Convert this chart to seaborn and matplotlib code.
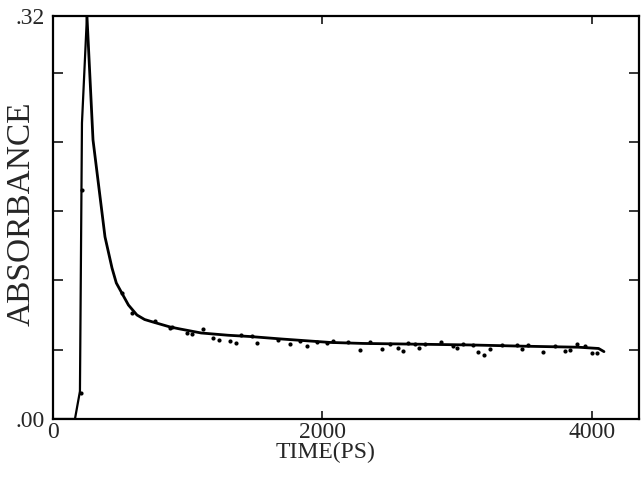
import numpy as np
import pandas as pd
import matplotlib
matplotlib.use('Agg')
import matplotlib.pyplot as plt
import seaborn as sns

# rising edge of the measured trace (ps, absorbance)
rise_t = [0, 163, 200, 215, 252]
rise_a = [0.0, 0.0, 0.022, 0.235, 0.320]

# fitted decay curve
fit_t = [252, 297, 341, 386, 438, 470, 512, 560, 623, 680, 742, 868, 942, 1100,
         1300, 1462, 1700, 2056, 2300, 2575, 3095, 3500, 3900, 4050, 4090]
fit_a = [0.320, 0.2216, 0.1835, 0.1446, 0.1199, 0.1080, 0.0998, 0.0905, 0.0826,
         0.0790, 0.0770, 0.0731, 0.0715, 0.0683, 0.0665, 0.0655, 0.0635, 0.0608,
         0.0600, 0.0596, 0.0588, 0.0578, 0.0570, 0.0560, 0.0535]

# measured points visible around the fit
pts_t = [208, 215, 512, 586, 757, 868, 883, 994, 1032, 1113, 1187, 1232, 1314, 1358,
         1395, 1477, 1514, 1670, 1759, 1833, 1885, 1959, 2033, 2078, 2189, 2278,
         2353, 2442, 2501, 2560, 2597, 2635, 2687, 2716, 2761, 2879, 2968, 2998,
         3043, 3117, 3154, 3199, 3243, 3332, 3443, 3481, 3525, 3636, 3725, 3800,
         3837, 3889, 3948, 4000, 4037]
pts_a = [0.0206, 0.182, 0.1001, 0.0842, 0.0778, 0.0723, 0.0731, 0.0683, 0.0675,
         0.0715, 0.0643, 0.0627, 0.0620, 0.0604, 0.0667, 0.0659, 0.0604, 0.0627,
         0.0596, 0.0620, 0.0580, 0.0612, 0.0604, 0.0620, 0.0612, 0.0548, 0.0612,
         0.0556, 0.0596, 0.0564, 0.0540, 0.0604, 0.0596, 0.0564, 0.0596, 0.0612,
         0.0580, 0.0564, 0.0596, 0.0588, 0.0532, 0.0508, 0.0556, 0.0588, 0.0588,
         0.0556, 0.0588, 0.0532, 0.0580, 0.0540, 0.0548, 0.0596, 0.0580, 0.0524,
         0.0524]

x_ticks = [0, 2000, 4000]
x_labels = ['0', '2000', '4000']
y_ticks = [0.0, 0.32]
y_labels = ['.00', '.32']
y_minor = [0.055, 0.110, 0.165, 0.220, 0.275]

rise = pd.DataFrame({'t': rise_t, 'a': rise_a})
fit = pd.DataFrame({'t': fit_t, 'a': fit_a})
pts = pd.DataFrame({'t': pts_t, 'a': pts_a})

sns.set_style('ticks')
plt.rcParams['font.family'] = ['Liberation Serif', 'DejaVu Serif']

fig = plt.figure(figsize=(6.41, 4.8), dpi=100)
ax = fig.add_axes([53 / 641, 61 / 480, 586 / 641, 403 / 480])

sns.lineplot(data=rise, x='t', y='a', color='black', linewidth=1.6, ax=ax)
sns.lineplot(data=fit, x='t', y='a', color='black', linewidth=2.0, ax=ax)
sns.scatterplot(data=pts, x='t', y='a', color='black', s=9, linewidth=0, ax=ax)

ax.set_xlim(0, 4350)
ax.set_ylim(0, 0.32)

ax.set_xticks(x_ticks)
ax.set_xticklabels(x_labels)
ax.set_yticks(y_ticks)
ax.set_yticklabels(y_labels)
ax.set_yticks(y_minor, minor=True)

ax.tick_params(axis='x', which='major', direction='in', length=6, width=1.3,
               top=True, bottom=True, labelsize=17, pad=2)
ax.tick_params(axis='y', which='major', direction='in', length=0,
               labelsize=17, pad=6)
ax.tick_params(axis='y', which='minor', direction='in', length=7, width=1.3,
               left=True, right=True)
ax.tick_params(axis='x', which='minor', bottom=False, top=False)

for s in ax.spines.values():
    s.set_visible(True)
    s.set_linewidth(1.6)
    s.set_color('black')

ax.set_xlabel('TIME(PS)', fontsize=17)
ax.set_ylabel('ABSORBANCE', fontsize=24)
ax.xaxis.set_label_coords(0.465, -0.056)
ax.yaxis.set_label_coords(-0.028, 0.51)

fig.savefig('out.png', dpi=100)
